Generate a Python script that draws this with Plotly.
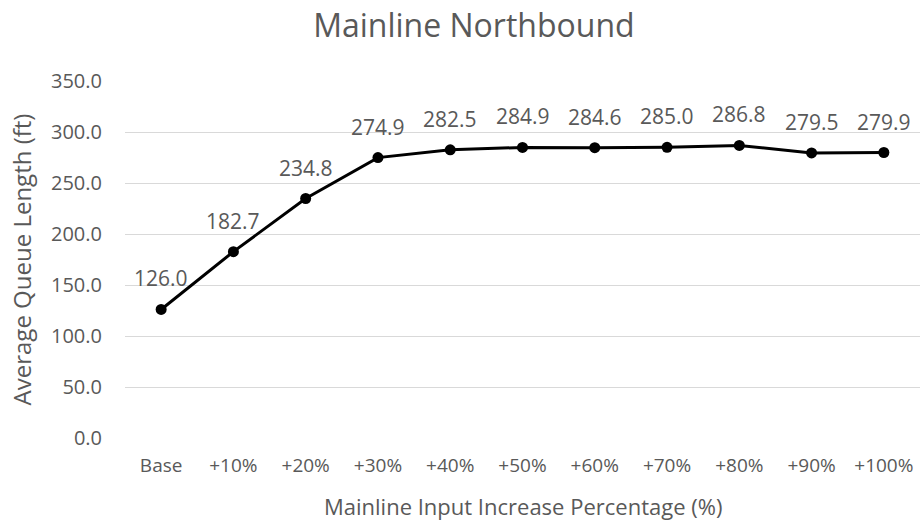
import plotly.graph_objects as go

categories = ["Base", "+10%", "+20%", "+30%", "+40%", "+50%", "+60%", "+70%", "+80%", "+90%", "+100%"]
queue_ft = [126.0, 182.7, 234.8, 274.9, 282.5, 284.9, 284.6, 285.0, 286.8, 279.5, 279.9]
y_ticks = [0, 50, 100, 150, 200, 250, 300, 350]

FONT = "Open Sans"
GREY = "#595959"

fig = go.Figure()
fig.add_trace(go.Scatter(
    x=categories, y=queue_ft, mode="lines+markers",
    line=dict(color="black", width=3),
    marker=dict(color="black", size=11),
    hoverinfo="x+y", showlegend=False,
))

# value labels above each point
for c, v in zip(categories, queue_ft):
    fig.add_annotation(x=c, y=v, text=f"{v:.1f}", showarrow=False,
                       yshift=31, font=dict(family=FONT, size=21, color=GREY))

# x-axis title placed below the tick labels
fig.add_annotation(x=0.5, y=0, xref="paper", yref="paper", yshift=-68,
                   xanchor="center", yanchor="middle", showarrow=False,
                   text="Mainline Input Increase Percentage (%)",
                   font=dict(family=FONT, size=22, color=GREY))

fig.update_layout(
    width=922, height=523,
    margin=dict(l=125, r=2, t=81, b=85),
    paper_bgcolor="white", plot_bgcolor="white",
    title=dict(text="Mainline Northbound", x=0.514, xanchor="center",
               y=0.95, yanchor="middle",
               font=dict(family=FONT, size=32, color=GREY)),
    xaxis=dict(
        type="category", range=[-0.5, 10.5], showgrid=False, zeroline=False,
        showline=False, ticks="", automargin=False, ticklabelstandoff=14,
        tickfont=dict(family=FONT, size=19, color=GREY),
    ),
    yaxis=dict(
        range=[0, 350], tickvals=y_ticks, ticktext=[f"{t:.1f}" for t in y_ticks],
        showgrid=True, gridcolor="#d9d9d9", gridwidth=1, zeroline=False,
        showline=False, ticks="", ticklabelstandoff=22, automargin=False,
        tickfont=dict(family=FONT, size=20, color=GREY),
        title=dict(text="Average Queue Length (ft)", standoff=12,
                   font=dict(family=FONT, size=24, color=GREY)),
    ),
)

fig.write_html("out.html")
